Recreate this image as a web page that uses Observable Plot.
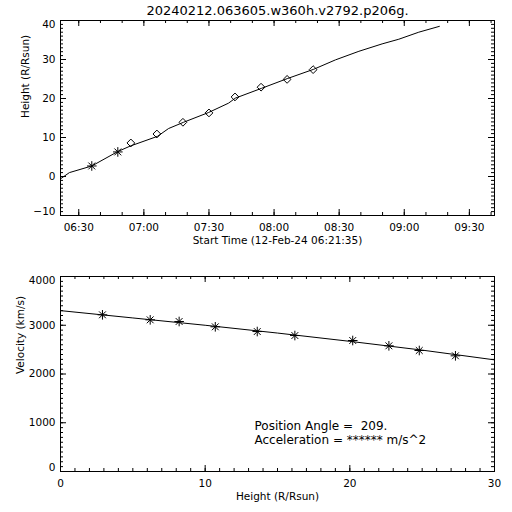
<!DOCTYPE html>
<html>
<head>
<meta charset="utf-8">
<script src="https://cdn.jsdelivr.net/npm/d3@7"></script>
<script src="https://cdn.jsdelivr.net/npm/@observablehq/plot@0.6"></script>
<style>
  html, body { margin: 0; padding: 0; background: white; }
  svg { display: block; }
</style>
</head>
<body>
<script>
// ---------- data ----------
const title = "20240212.063605.w360h.v2792.p206g.";
const day = "2024-02-12";
const startTime = "06:21:35";
const endTime = "09:41:35";

// Top panel: fitted height–time curve
const fitTimes = ["06:21:35","06:25:41","06:36:00","06:48:00","06:53:41","07:06:17","07:11:23","07:18:17","07:29:47","07:39:00","07:42:11","07:54:11","08:06:05","08:18:17","08:28:17","08:39:05","08:49:47","08:57:29","09:06:41","09:16:11"];
const fitHeights = [-0.6, 1.0, 2.7, 6.4, 7.8, 10.3, 12.3, 13.9, 16.4, 18.8, 20.1, 22.6, 25.1, 27.5, 29.9, 32.1, 34.0, 35.2, 37.0, 38.5];

// Top panel: measured points (asterisks = C2, diamonds = C3)
const c2Times = ["06:36", "06:48"];
const c2Heights = [2.7, 6.3];
const c3Times = ["06:54", "07:06", "07:18", "07:30", "07:42", "07:54", "08:06", "08:18"];
const c3Heights = [8.6, 10.9, 13.9, 16.3, 20.4, 22.9, 24.9, 27.4];

// Bottom panel: velocity vs height
const velHeights = [2.9, 6.2, 8.2, 10.7, 13.6, 16.2, 20.2, 22.7, 24.8, 27.3];
const velValues = [3214, 3111, 3077, 2968, 2871, 2789, 2687, 2578, 2482, 2373];
const velFitHeights = [0, 5, 10, 15, 20, 25, 30];
const velFitValues = [3300, 3150, 3000, 2840, 2670, 2490, 2290];

// Tick labels
const topYTicks = [-10, 0, 10, 20, 30, 40];
const topXTickLabels = ["06:30", "07:00", "07:30", "08:00", "08:30", "09:00", "09:30"];
const botYTicks = [0, 1000, 2000, 3000, 4000];
const botXTicks = [0, 10, 20, 30];

const xLabelTop = "Start Time (12-Feb-24 06:21:35)";
const yLabelTop = "Height (R/Rsun)";
const xLabelBot = "Height (R/Rsun)";
const yLabelBot = "Velocity (km/s)";
const annotPA = "Position Angle =\u00a0\u00a0209.";
const annotAcc = "Acceleration = ****** m/s^2";

// ---------- helpers ----------
const toDate = s => new Date(`${day}T${s.length === 5 ? s + ":00" : s}Z`);
const W = 512, H = 256;
const M = {top: 20, bottom: 41, left: 60, right: 18};
const plotW = W - M.left - M.right, plotH = H - M.top - M.bottom;
const majorLen = 6, minorLen = 3;
const minus = v => (v < 0 ? "\u2212" + Math.abs(v) : String(v));

function frameTicks(xMajor, xMinor, yMajor, yMinor) {
  return [
    Plot.tickX(xMinor, {x: d => d, insetTop: plotH - minorLen, stroke: "black"}),
    Plot.tickX(xMinor, {x: d => d, insetBottom: plotH - minorLen, stroke: "black"}),
    Plot.tickX(xMajor, {x: d => d, insetTop: plotH - majorLen, stroke: "black"}),
    Plot.tickX(xMajor, {x: d => d, insetBottom: plotH - majorLen, stroke: "black"}),
    Plot.tickY(yMinor, {y: d => d, insetRight: plotW - minorLen, stroke: "black"}),
    Plot.tickY(yMinor, {y: d => d, insetLeft: plotW - minorLen, stroke: "black"}),
    Plot.tickY(yMajor, {y: d => d, insetRight: plotW - majorLen, stroke: "black"}),
    Plot.tickY(yMajor, {y: d => d, insetLeft: plotW - majorLen, stroke: "black"})
  ];
}

function yTickLabels(ticks) {
  const lo = ticks[0], hi = ticks[ticks.length - 1];
  const mid = ticks.slice(1, -1);
  return [
    Plot.text(mid, {y: d => d, text: minus, frameAnchor: "left", textAnchor: "end", dx: -5, lineAnchor: "middle", fill: "black"}),
    Plot.text([hi], {y: d => d, text: minus, frameAnchor: "left", textAnchor: "end", dx: -5, dy: 4, lineAnchor: "middle", fill: "black"}),
    Plot.text([lo], {y: d => d, text: minus, frameAnchor: "left", textAnchor: "end", dx: -5, dy: -4, lineAnchor: "middle", fill: "black"})
  ];
}

const baseStyle = {fontFamily: "DejaVu Sans", fontSize: "10.5px", background: "white", color: "black", overflow: "visible"};

// ---------- top panel ----------
const t0 = toDate(startTime), t1 = toDate(endTime);
const fitData = fitTimes.map((t, i) => ({t: toDate(t), h: fitHeights[i]}));
const c2Data = c2Times.map((t, i) => ({t: toDate(t), h: c2Heights[i]}));
const c3Data = c3Times.map((t, i) => ({t: toDate(t), h: c3Heights[i]}));
const topXMajor = topXTickLabels.map(toDate);
const topXMinor = d3.utcMinute.every(10).range(t0, t1);
const topYMinor = d3.range(-10, 41, 1);

const topPlot = Plot.plot({
  width: W, height: H,
  marginTop: M.top, marginBottom: M.bottom, marginLeft: M.left, marginRight: M.right,
  style: baseStyle,
  x: {type: "utc", domain: [t0, t1], axis: null},
  y: {domain: [-10, 40], axis: null},
  marks: [
    Plot.frame({stroke: "black"}),
    ...frameTicks(topXMajor, topXMinor, topYTicks, topYMinor),
    Plot.line(fitData, {x: "t", y: "h", stroke: "black", strokeWidth: 1, clip: true}),
    Plot.dot(c2Data, {x: "t", y: "h", symbol: "plus", r: 3.2, stroke: "black", strokeWidth: 1}),
    Plot.dot(c2Data, {x: "t", y: "h", symbol: "times", r: 3.2, stroke: "black", strokeWidth: 1}),
    Plot.dot(c3Data, {x: "t", y: "h", symbol: "diamond2", r: 3.5, stroke: "black", fill: "none", strokeWidth: 1}),
    Plot.text(topXMajor, {x: d => d, text: d => d3.utcFormat("%H:%M")(d), frameAnchor: "bottom", dy: 12, lineAnchor: "middle", fill: "black"}),
    ...yTickLabels(topYTicks),
    Plot.text([xLabelTop], {frameAnchor: "bottom", dy: 25.5, lineAnchor: "middle", fill: "black"}),
    Plot.text([yLabelTop], {frameAnchor: "left", dx: -35, rotate: -90, lineAnchor: "middle", fill: "black"}),
    Plot.text([title], {frameAnchor: "top", dy: -10, lineAnchor: "middle", fontSize: 13, fill: "black"})
  ]
});

// ---------- bottom panel ----------
const velData = velHeights.map((h, i) => ({h, v: velValues[i]}));
const velFit = velFitHeights.map((h, i) => ({h, v: velFitValues[i]}));
const botXMinor = d3.range(0, 31, 1);
const botYMinor = d3.range(0, 4001, 100);

const botPlot = Plot.plot({
  width: W, height: H,
  marginTop: M.top, marginBottom: M.bottom, marginLeft: M.left, marginRight: M.right,
  style: baseStyle,
  x: {domain: [0, 30], axis: null},
  y: {domain: [0, 4000], axis: null},
  marks: [
    Plot.frame({stroke: "black"}),
    ...frameTicks(botXTicks, botXMinor, botYTicks, botYMinor),
    Plot.line(velFit, {x: "h", y: "v", stroke: "black", strokeWidth: 1, clip: true}),
    Plot.dot(velData, {x: "h", y: "v", symbol: "plus", r: 3.2, stroke: "black", strokeWidth: 1}),
    Plot.dot(velData, {x: "h", y: "v", symbol: "times", r: 3.2, stroke: "black", strokeWidth: 1}),
    Plot.text(botXTicks, {x: d => d, text: d => String(d), frameAnchor: "bottom", dy: 12, lineAnchor: "middle", fill: "black"}),
    ...yTickLabels(botYTicks),
    Plot.text([xLabelBot], {frameAnchor: "bottom", dy: 25.5, lineAnchor: "middle", fill: "black"}),
    Plot.text([yLabelBot], {frameAnchor: "left", dx: -40, rotate: -90, lineAnchor: "middle", fill: "black"}),
    Plot.text([annotPA], {frameAnchor: "bottom-left", dx: 194, dy: -45, textAnchor: "start", lineAnchor: "middle", fontSize: 12, letterSpacing: "0.7px", fill: "black"}),
    Plot.text([annotAcc], {frameAnchor: "bottom-left", dx: 194, dy: -31, textAnchor: "start", lineAnchor: "middle", fontSize: 12, letterSpacing: "0.7px", fill: "black"})
  ]
});

document.body.appendChild(topPlot);
document.body.appendChild(botPlot);
</script>
</body>
</html>
